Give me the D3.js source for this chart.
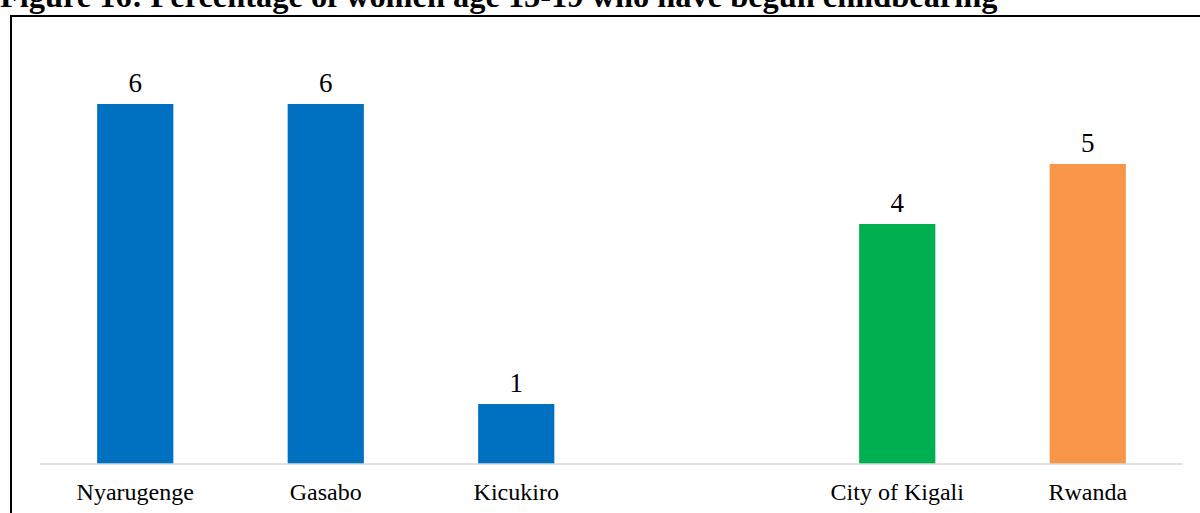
<!DOCTYPE html>
<html><head><meta charset="utf-8">
<script src="https://cdn.jsdelivr.net/npm/d3@7/dist/d3.min.js"></script>
<style>html,body{margin:0;padding:0;background:#fff;overflow:hidden}</style>
</head><body>
<svg id="c" width="1200" height="513"></svg>
<script>
const title = "Figure 16: Percentage of women age 15-19 who have begun childbearing";
const categories = ["Nyarugenge", "Gasabo", "Kicukiro", "", "City of Kigali", "Rwanda"];
const values = [6, 6, 1, null, 4, 5];
const colors = ["#0070C0", "#0070C0", "#0070C0", "#ffffff", "#00B050", "#F79646"];

const svg = d3.select("#c");
const font = "'Liberation Serif','Times New Roman',serif";

svg.append("text").attr("x", 0).attr("y", 7)
  .attr("font-family", font).attr("font-weight", "bold").attr("font-size", 32.4)
  .attr("fill", "#000").text(title);

// frame
svg.append("rect").attr("x", 11).attr("y", 16).attr("width", 1200).attr("height", 520)
  .attr("fill", "none").attr("stroke", "#000").attr("stroke-width", 2);

const x = d3.scaleBand().domain(categories.map((c, i) => i)).range([40, 1183])
  .paddingInner(0.6).paddingOuter(0.3);
const y = d3.scaleLinear().domain([0, 6]).range([464, 104]);

const idx = categories.map((c, i) => i).filter(i => values[i] != null);

svg.selectAll("rect.bar").data(idx).enter().append("rect").attr("class", "bar")
  .attr("x", i => x(i)).attr("width", x.bandwidth())
  .attr("y", i => y(values[i])).attr("height", i => y(0) - y(values[i]))
  .attr("fill", i => colors[i]);

svg.append("line").attr("x1", 40).attr("x2", 1183).attr("y1", y(0)).attr("y2", y(0))
  .attr("stroke", "#d9d9d9").attr("stroke-width", 1.5);

svg.selectAll("text.val").data(idx).enter().append("text").attr("class", "val")
  .attr("x", i => x(i) + x.bandwidth() / 2).attr("y", i => y(values[i]) - 12)
  .attr("text-anchor", "middle").attr("font-family", font).attr("font-size", 27)
  .attr("fill", "#000").text(i => values[i]);

svg.selectAll("text.cat").data(idx).enter().append("text").attr("class", "cat")
  .attr("x", i => x(i) + x.bandwidth() / 2).attr("y", 500)
  .attr("text-anchor", "middle").attr("font-family", font).attr("font-size", 24)
  .attr("fill", "#000").text(i => categories[i]);
</script>
</body></html>
